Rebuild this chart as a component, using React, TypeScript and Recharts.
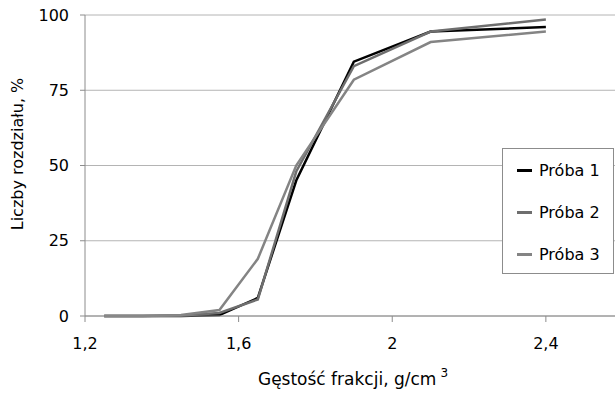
import React from "react";
import {
  LineChart,
  Line,
  XAxis,
  YAxis,
  CartesianGrid,
  Legend,
} from "recharts";

const density = [1.25, 1.35, 1.45, 1.55, 1.65, 1.75, 1.9, 2.1, 2.4];
const proba1 = [0, 0, 0, 0.3, 6, 45, 84.5, 94.5, 96];
const proba2 = [0, 0, 0.2, 1, 5.5, 48, 83, 94.5, 98.5];
const proba3 = [0, 0, 0.3, 2, 19, 50, 78.5, 91, 94.5];
const xTicks = [1.2, 1.6, 2, 2.4];
const yTicks = [0, 25, 50, 75, 100];

const data = density.map((d, i) => ({
  density: d,
  p1: proba1[i],
  p2: proba2[i],
  p3: proba3[i],
}));

const font = "'DejaVu Sans', Verdana, sans-serif";

const LegendBox = (props: any) => {
  const { payload } = props;
  return (
    <div
      style={{
        width: 112,
        height: 126,
        boxSizing: "border-box",
        border: "1px solid #8c8c8c",
        background: "#fff",
        fontFamily: font,
        fontSize: 16,
        color: "#000",
      }}
    >
      {(payload || []).map((p: any) => (
        <div
          key={p.value}
          style={{ display: "flex", alignItems: "center", height: 42, paddingLeft: 14 }}
        >
          <span
            style={{
              display: "inline-block",
              width: 15,
              height: 3,
              background: p.color,
              marginRight: 7,
            }}
          />
          <span>{p.value}</span>
        </div>
      ))}
    </div>
  );
};

export default function App() {
  return (
    <div style={{ position: "absolute", left: 0, top: 0, background: "#fff" }}>
      <LineChart
        width={615}
        height={393}
        data={data}
        margin={{ top: 15, right: 0, left: 0, bottom: 0 }}
        style={{ fontFamily: font }}
      >
        <CartesianGrid vertical={false} stroke="#b4b4b4" />
        <XAxis
          dataKey="density"
          type="number"
          domain={[1.2, 2.58]}
          ticks={xTicks}
          allowDataOverflow
          height={77}
          stroke="#8c8c8c"
          tickSize={6}
          tickMargin={16}
          tick={{ fill: "#000", fontSize: 16 }}
          tickFormatter={(v: number) => String(v).replace(".", ",")}
          label={{
            content: () => (
              <text x={353} y={385} textAnchor="middle" fontSize={17} fill="#000">
                Gęstość frakcji, g/cm
                <tspan dx={4} dy={-8} fontSize={12}>
                  3
                </tspan>
              </text>
            ),
          }}
        />
        <YAxis
          domain={[0, 100]}
          ticks={yTicks}
          width={85}
          stroke="#8c8c8c"
          tickSize={5}
          tickMargin={11}
          tick={{ fill: "#000", fontSize: 16 }}
          label={{
            content: () => (
              <text
                x={23}
                y={154}
                textAnchor="middle"
                fontSize={16}
                fill="#000"
                transform="rotate(-90 23 154)"
              >
                Liczby rozdziału, %
              </text>
            ),
          }}
        />
        <Legend
          layout="vertical"
          align="center"
          verticalAlign="middle"
          content={<LegendBox />}
          wrapperStyle={{ left: 502, top: 148, width: 112, height: 126 }}
        />
        <Line
          type="linear"
          dataKey="p1"
          name="Próba 1"
          stroke="#000000"
          strokeWidth={2.5}
          dot={false}
          isAnimationActive={false}
        />
        <Line
          type="linear"
          dataKey="p2"
          name="Próba 2"
          stroke="#6e6e6e"
          strokeWidth={2.5}
          dot={false}
          isAnimationActive={false}
        />
        <Line
          type="linear"
          dataKey="p3"
          name="Próba 3"
          stroke="#848484"
          strokeWidth={2.5}
          dot={false}
          isAnimationActive={false}
        />
      </LineChart>
    </div>
  );
}
